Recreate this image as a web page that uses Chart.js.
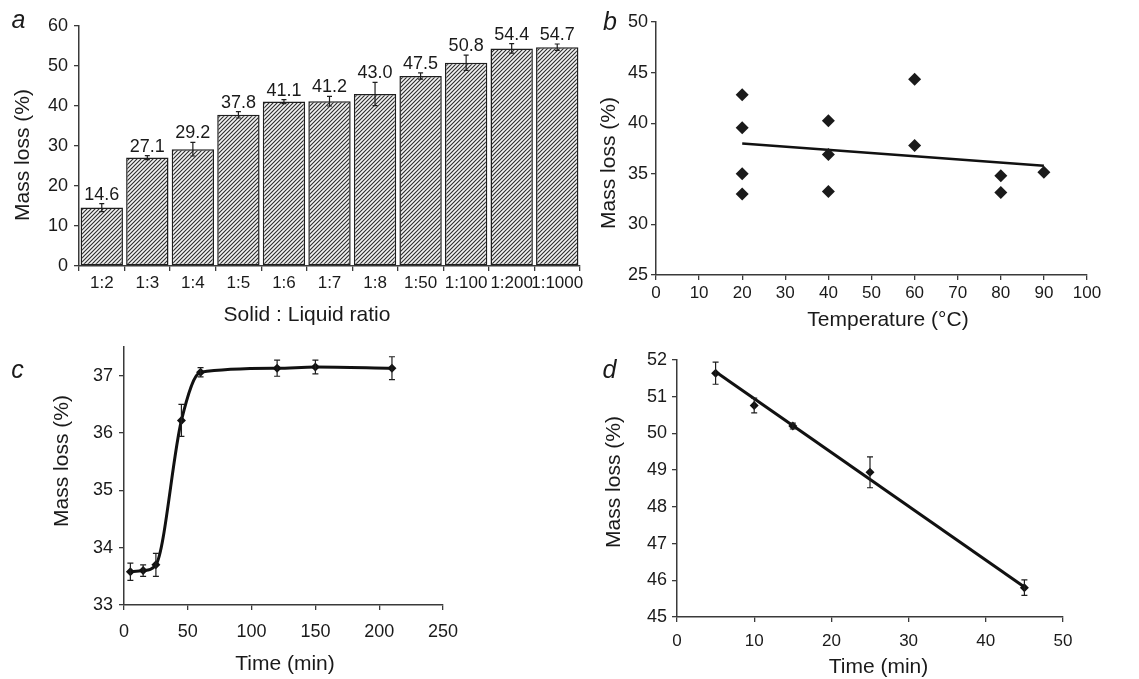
<!DOCTYPE html>
<html><head><meta charset="utf-8">
<script src="https://cdn.jsdelivr.net/npm/chart.js@4/dist/chart.umd.min.js"></script>
<style>
html,body{margin:0;padding:0;background:#fff;}
body{width:1139px;height:679px;position:relative;overflow:hidden;}
canvas{position:absolute;}
</style></head><body>
<canvas id="ca" width="600" height="330" style="left:0;top:0"></canvas>
<canvas id="cb" width="549" height="335" style="left:590px;top:0"></canvas>
<canvas id="cc" width="560" height="349" style="left:0;top:330px"></canvas>
<canvas id="cd" width="549" height="349" style="left:590px;top:330px"></canvas>
<script>
// ---------- Data ----------
// (a) Solid : Liquid ratio
const ratioLabels = ['1:2','1:3','1:4','1:5','1:6','1:7','1:8','1:50','1:100','1:200','1:1000'];
const ratioLoss   = [14.6, 27.1, 29.2, 37.8, 41.1, 41.2, 43.0, 47.5, 50.8, 54.4, 54.7];
const ratioErr    = [1.0, 0.5, 1.7, 0.8, 0.5, 1.2, 2.9, 0.8, 1.9, 1.2, 0.8];
// (b) Temperature
const tempX     = [20, 20, 20, 20, 40, 40, 40, 60, 60, 80, 80, 90];
const tempLoss  = [42.8, 39.55, 35.0, 33.0, 40.25, 36.9, 33.25, 44.35, 37.8, 34.8, 33.15, 35.15];
const tempTrendX = [20, 90];
const tempTrendY = [38.0, 35.8];
// (c) Time, long range
const timeC = [5, 15, 25, 45, 60, 120, 150, 210];
const lossC = [33.58, 33.6, 33.7, 36.22, 37.06, 37.13, 37.15, 37.13];
const errC  = [0.15, 0.1, 0.2, 0.28, 0.08, 0.14, 0.12, 0.2];
// (d) Time, short range
const timeD = [5, 10, 15, 25, 45];
const lossD = [51.64, 50.76, 50.2, 48.94, 45.8];
const errD  = [0.3, 0.2, 0.08, 0.42, 0.21];
const trendDX = [5, 45];
const trendDY = [51.68, 45.82];

// ticks
const ticksA = {min: 0, max: 60, step: 10};
const ticksB = {xmin: 0, xmax: 100, xstep: 10, ymin: 25, ymax: 50, ystep: 5};
const ticksC = {xmin: 0, xmax: 250, xstep: 50, ymin: 33, ymax: 37.5, ystep: 1};
const ticksD = {xmin: 0, xmax: 50, xstep: 10, ymin: 45, ymax: 52, ystep: 1};

// ---------- Helpers ----------
const FONT = '"Liberation Sans", Arial, Helvetica, sans-serif';
Chart.defaults.font.family = FONT;
Chart.defaults.color = '#1a1a1a';
const toXY = (xs, ys) => xs.map((x, i) => ({x: x, y: ys[i]}));
const AX = '#3a3a3a';
const TXT = '#1a1a1a';

function axis(extra, fixed, isX, fsize) {
  const base = {
    ticks: Object.assign({color: TXT, font: {size: fsize || 17}}, extra.ticks || {}),
    grid: {drawOnChartArea: false, drawTicks: true, tickLength: 5, color: AX, lineWidth: 1.3},
    border: {display: true, color: AX, width: 1.5},
    title: {display: false}
  };
  if (isX) base.afterFit = s => { s.height = fixed; };
  else base.afterFit = s => { s.width = fixed; };
  return Object.assign({}, extra, base);
}

const errorBarPlugin = {
  id: 'errorBars',
  afterDatasetsDraw(chart, args, opts) {
    const ctx = chart.ctx;
    chart.data.datasets.forEach((ds, di) => {
      if (!ds.errors) return;
      const meta = chart.getDatasetMeta(di);
      const ys = chart.scales[meta.yAxisID];
      ctx.save();
      ctx.strokeStyle = '#1e1e1e';
      ctx.lineWidth = opts.width || 1.2;
      const cw = opts.cap || 3;
      meta.data.forEach((el, i) => {
        const d = ds.data[i];
        const v = (typeof d === 'object') ? d.y : d;
        const e = ds.errors[i];
        const x = el.x;
        const y1 = ys.getPixelForValue(v + e), y2 = ys.getPixelForValue(v - e);
        ctx.beginPath();
        ctx.moveTo(x, y1); ctx.lineTo(x, y2);
        ctx.moveTo(x - cw, y1); ctx.lineTo(x + cw, y1);
        ctx.moveTo(x - cw, y2); ctx.lineTo(x + cw, y2);
        ctx.stroke();
      });
      ctx.restore();
    });
  }
};

const valueLabelPlugin = {
  id: 'valueLabels',
  afterDatasetsDraw(chart, args, opts) {
    const ds = chart.data.datasets[0];
    const meta = chart.getDatasetMeta(0);
    const ys = chart.scales.y;
    const ctx = chart.ctx;
    ctx.save();
    ctx.fillStyle = TXT;
    ctx.font = '18px ' + FONT;
    ctx.textAlign = 'center';
    ctx.textBaseline = 'alphabetic';
    meta.data.forEach((el, i) => {
      const top = ys.getPixelForValue(ds.data[i] + (ds.errors ? ds.errors[i] : 0));
      ctx.fillText(ds.data[i].toFixed(1), el.x, top - 4);
    });
    ctx.restore();
  }
};

const panelTextPlugin = {
  id: 'panelText',
  afterDraw(chart, args, o) {
    const ctx = chart.ctx;
    ctx.save();
    ctx.fillStyle = TXT;
    ctx.textAlign = 'center';
    ctx.font = 'italic 25px ' + FONT;
    ctx.textBaseline = 'alphabetic';
    ctx.fillText(o.letter.text, o.letter.x, o.letter.y);
    ctx.font = '21px ' + FONT;
    ctx.textBaseline = 'middle';
    ctx.fillText(o.xTitle.text, o.xTitle.x, o.xTitle.y);
    ctx.translate(o.yTitle.x, o.yTitle.y);
    ctx.rotate(-Math.PI / 2);
    ctx.fillText(o.yTitle.text, 0, 0);
    ctx.restore();
  }
};

const common = {
  responsive: false,
  animation: false,
  events: [],
  devicePixelRatio: 1
};

// ---------- (a) bar chart ----------
const ctxA = document.getElementById('ca').getContext('2d');
const hatchTile = (() => {
  const c = document.createElement('canvas'); c.width = 4; c.height = 4;
  const g = c.getContext('2d');
  g.fillStyle = '#f3f3f3'; g.fillRect(0, 0, 4, 4);
  g.strokeStyle = '#2c2c2c'; g.lineWidth = 1.1;
  g.beginPath();
  g.moveTo(-1, 5); g.lineTo(5, -1);
  g.moveTo(-1, 1); g.lineTo(1, -1);
  g.moveTo(3, 5); g.lineTo(5, 3);
  g.stroke();
  return c;
})();
const hatch = ctxA.createPattern(hatchTile, 'repeat');

new Chart(ctxA, {
  type: 'bar',
  data: {
    labels: ratioLabels,
    datasets: [{
      data: ratioLoss,
      errors: ratioErr,
      backgroundColor: hatch,
      borderColor: '#1e1e1e',
      borderWidth: 1.5,
      borderSkipped: false,
      barPercentage: 0.93,
      categoryPercentage: 1.0
    }]
  },
  options: Object.assign({}, common, {
    layout: {padding: {left: 0, top: 26, right: 20, bottom: 0}},
    plugins: {
      legend: {display: false}, tooltip: {enabled: false},
      errorBars: {cap: 2.5, width: 1.2},
      panelText: {
        letter: {text: 'a', x: 18.5, y: 28},
        xTitle: {text: 'Solid : Liquid ratio', x: 307, y: 315},
        yTitle: {text: 'Mass loss (%)', x: 23, y: 155}
      }
    },
    scales: {
      x: axis({ticks: {autoSkip: false, maxRotation: 0, minRotation: 0, padding: 2}}, 64, true, 17),
      y: axis({min: ticksA.min, max: ticksA.max, ticks: {stepSize: ticksA.step, padding: 6}}, 79, false, 18)
    }
  }),
  plugins: [errorBarPlugin, valueLabelPlugin, panelTextPlugin]
});

// ---------- (b) scatter ----------
new Chart(document.getElementById('cb'), {
  type: 'scatter',
  data: {
    datasets: [{
      data: toXY(tempX, tempLoss),
      pointStyle: 'rectRot',
      pointRadius: 6.5,
      backgroundColor: '#1a1a1a',
      borderColor: '#1a1a1a',
      borderWidth: 0
    }, {
      type: 'line',
      data: toXY(tempTrendX, tempTrendY),
      borderColor: '#111',
      borderWidth: 2.5,
      pointRadius: 0,
      fill: false
    }]
  },
  options: Object.assign({}, common, {
    layout: {padding: {left: 0, top: 22, right: 52, bottom: 0}},
    plugins: {
      legend: {display: false}, tooltip: {enabled: false},
      panelText: {
        letter: {text: 'b', x: 20, y: 30},
        xTitle: {text: 'Temperature (°C)', x: 298, y: 320},
        yTitle: {text: 'Mass loss (%)', x: 19, y: 163}
      }
    },
    scales: {
      x: axis({type: 'linear', min: ticksB.xmin, max: ticksB.xmax, ticks: {stepSize: ticksB.xstep, padding: 3}}, 60, true, 17),
      y: axis({type: 'linear', min: ticksB.ymin, max: ticksB.ymax, ticks: {stepSize: ticksB.ystep, padding: 3}}, 66, false, 18)
    }
  }),
  plugins: [panelTextPlugin]
});

// ---------- (c) time curve ----------
const yC = axis({type: 'linear', min: ticksC.ymin, max: ticksC.ymax, ticks: {stepSize: ticksC.ystep, padding: 6}}, 124, false, 18);
yC.afterBuildTicks = s => { s.ticks = s.ticks.filter(t => Number.isInteger(t.value)); };
new Chart(document.getElementById('cc'), {
  type: 'scatter',
  data: {
    datasets: [{
      data: toXY(timeC, lossC),
      errors: errC,
      showLine: true,
      cubicInterpolationMode: 'monotone',
      borderColor: '#111',
      borderWidth: 3,
      pointStyle: 'rectRot',
      pointRadius: 4.5,
      backgroundColor: '#111',
      pointBorderWidth: 0
    }]
  },
  options: Object.assign({}, common, {
    layout: {padding: {left: 0, top: 17, right: 117, bottom: 0}},
    plugins: {
      legend: {display: false}, tooltip: {enabled: false},
      errorBars: {cap: 3, width: 1.2},
      panelText: {
        letter: {text: 'c', x: 17.5, y: 48},
        xTitle: {text: 'Time (min)', x: 285, y: 334},
        yTitle: {text: 'Mass loss (%)', x: 62.5, y: 131}
      }
    },
    scales: {
      x: axis({type: 'linear', min: ticksC.xmin, max: ticksC.xmax, ticks: {stepSize: ticksC.xstep, padding: 11}}, 74, true, 18),
      y: yC
    }
  }),
  plugins: [errorBarPlugin, panelTextPlugin]
});

// ---------- (d) linear decrease ----------
new Chart(document.getElementById('cd'), {
  type: 'scatter',
  data: {
    datasets: [{
      data: toXY(timeD, lossD),
      errors: errD,
      pointStyle: 'rectRot',
      pointRadius: 4.5,
      backgroundColor: '#111',
      borderWidth: 0
    }, {
      type: 'line',
      data: toXY(trendDX, trendDY),
      borderColor: '#111',
      borderWidth: 3,
      pointRadius: 0,
      fill: false
    }]
  },
  options: Object.assign({}, common, {
    layout: {padding: {left: 0, top: 30, right: 76, bottom: 0}},
    plugins: {
      legend: {display: false}, tooltip: {enabled: false},
      errorBars: {cap: 3, width: 1.2},
      panelText: {
        letter: {text: 'd', x: 19.5, y: 48},
        xTitle: {text: 'Time (min)', x: 288.5, y: 337},
        yTitle: {text: 'Mass loss (%)', x: 24, y: 152}
      }
    },
    scales: {
      x: axis({type: 'linear', min: ticksD.xmin, max: ticksD.xmax, ticks: {stepSize: ticksD.xstep, padding: 9}}, 62, true, 17),
      y: axis({type: 'linear', min: ticksD.ymin, max: ticksD.ymax, ticks: {stepSize: ticksD.ystep, padding: 5}}, 87, false, 18)
    }
  }),
  plugins: [errorBarPlugin, panelTextPlugin]
});
</script>
</body></html>
